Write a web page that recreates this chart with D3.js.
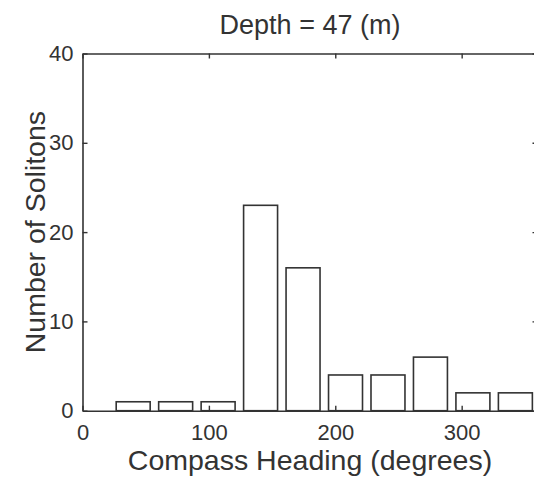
<!DOCTYPE html>
<html>
<head>
<meta charset="utf-8">
<script src="https://cdn.jsdelivr.net/npm/d3@7"></script>
<style>
  html, body { margin: 0; padding: 0; background: #fff; }
  svg { display: block; }
  text { font-family: "Liberation Sans", Arial, Helvetica, sans-serif; fill: #333; }
</style>
</head>
<body>
<svg id="chart" width="534" height="483"></svg>
<script>
// Histogram of soliton compass headings (bin centres in degrees, counts per bin)
const binCenters = [40.1, 73.7, 107.3, 140.9, 174.5, 208.1, 241.7, 275.3, 308.9, 342.5];
const counts = [1, 1, 1, 23, 16, 4, 4, 6, 2, 2];
const binWidth = 33.6;
const xTicks = [0, 100, 200, 300];
const yTicks = [0, 10, 20, 30, 40];
const titleText = "Depth = 47 (m)";
const xLabel = "Compass Heading (degrees)";
const yLabel = "Number of Solitons";

const ink = "#333";
const svg = d3.select("#chart");

const plotLeft = 82.5, plotRight = 537.5, plotTop = 53.5, plotBottom = 410.7;
const x = d3.scaleLinear().domain([0, 360]).range([plotLeft, plotRight]);
const y = d3.scaleLinear().domain([0, 40]).range([plotBottom, plotTop]);

// Bars: 80% of the bin width, outlined, white fill
const barW = 0.8 * binWidth;
svg.append("g")
  .selectAll("rect")
  .data(binCenters.map((c, i) => ({ c, n: counts[i] })))
  .join("rect")
  .attr("x", d => x(d.c - barW / 2))
  .attr("y", d => y(d.n))
  .attr("width", d => x(d.c + barW / 2) - x(d.c - barW / 2))
  .attr("height", d => y(0) - y(d.n))
  .attr("fill", "#fff")
  .attr("stroke", ink)
  .attr("stroke-width", 1.6);

function styleAxis(g) {
  g.selectAll("path.domain").attr("stroke", ink).attr("stroke-width", 1.6);
  g.selectAll(".tick line").attr("stroke", ink).attr("stroke-width", 1.4);
  g.selectAll(".tick text")
    .attr("fill", ink)
    .style("font-size", "22px")
    .style("font-family", "'Liberation Sans', Arial, Helvetica, sans-serif");
}

// Box axes with inward ticks
svg.append("g")
  .attr("transform", `translate(0,${plotBottom})`)
  .call(d3.axisBottom(x).tickValues(xTicks).tickSize(-5).tickSizeOuter(0).tickPadding(14))
  .call(styleAxis);

svg.append("g")
  .attr("transform", `translate(0,${plotTop})`)
  .call(d3.axisTop(x).tickValues(xTicks).tickSize(-5).tickSizeOuter(0).tickFormat(""))
  .call(styleAxis);

svg.append("g")
  .attr("transform", `translate(${plotLeft},0)`)
  .call(d3.axisLeft(y).tickValues(yTicks).tickSize(-5).tickSizeOuter(0).tickPadding(9))
  .call(styleAxis);

svg.append("g")
  .attr("transform", `translate(${plotRight},0)`)
  .call(d3.axisRight(y).tickValues(yTicks).tickSize(-5).tickSizeOuter(0).tickFormat(""))
  .call(styleAxis);

// Title and axis labels
const cx = (plotLeft + plotRight) / 2;
svg.append("text")
  .attr("x", cx).attr("y", 34)
  .attr("text-anchor", "middle")
  .style("font-size", "27px")
  .text(titleText);

svg.append("text")
  .attr("x", cx).attr("y", 470)
  .attr("text-anchor", "middle")
  .style("font-size", "28.5px")
  .text(xLabel);

svg.append("text")
  .attr("transform", `translate(45,${(plotTop + plotBottom) / 2}) rotate(-90)`)
  .attr("text-anchor", "middle")
  .style("font-size", "28.5px")
  .text(yLabel);
</script>
</body>
</html>
